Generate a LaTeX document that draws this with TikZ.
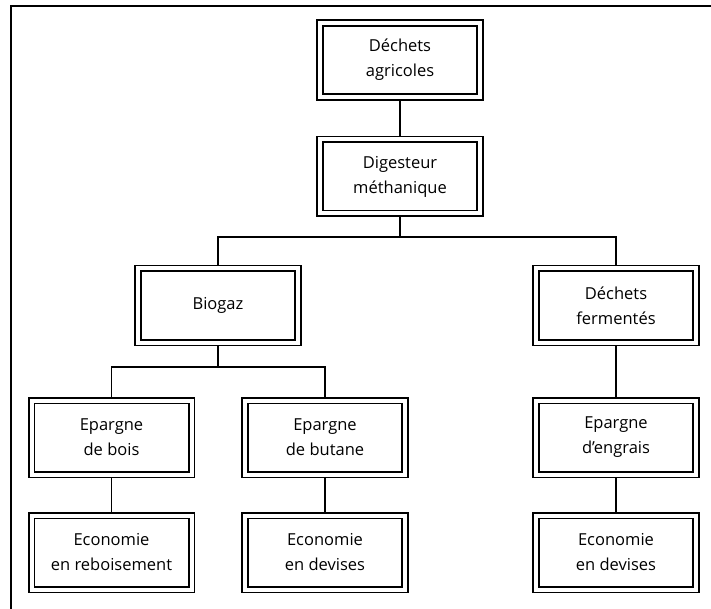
\documentclass[tikz,border=0pt]{standalone}
\usepackage{fontspec}
\setmainfont{Open Sans}
\usepackage{tikz}
\usetikzlibrary{calc}

\begin{document}
\begin{tikzpicture}[x=1pt,y=-1pt,
  bloc/.style={draw=black,line width=1.6pt,double=white,double distance=4pt,
    minimum width=160pt,minimum height=74pt,outer sep=3.6pt,inner sep=2pt,
    align=center,font=\fontsize{16.5}{25}\selectfont},
  lien/.style={line width=1.2pt,black}]
\useasboundingbox (0,0) rectangle (711,609);
\draw[line width=2pt] (11,609) -- (11,6) -- (711,6);
\node[bloc] (agri) at (400,60) {Déchets\\agricoles};
\node[bloc] (dig) at (400,176.5) {Digesteur\\méthanique};
\node[bloc] (bio) at (218,305.5) {Biogaz};
\node[bloc] (fer) at (616,305.5) {Déchets\\fermentés};
\node[bloc] (bois) at (111.5,437.5) {Epargne\\de bois};
\node[bloc] (but) at (325,437.5) {Epargne\\de butane};
\node[bloc] (eng) at (616,437.5) {Epargne\\d'engrais};
\node[bloc] (reb) at (111.5,552.5) {Economie\\en reboisement};
\node[bloc] (dev1) at (325,552.5) {Economie\\en devises};
\node[bloc] (dev2) at (616,552.5) {Economie\\en devises};
\coordinate (j1) at (400,237);
\coordinate (j2) at (218,367);
\draw[lien] (agri) -- (dig);
\draw[lien] (dig) -- (j1);
\draw[lien] (bio.north) |- (j1) -| (fer.north);
\draw[lien] (bio) -- (j2);
\draw[lien] (bois.north) |- (j2) -| (but.north);
\draw[lien] (fer) -- (eng);
\draw[lien] (bois) -- (reb);
\draw[lien] (but) -- (dev1);
\draw[lien] (eng) -- (dev2);
\end{tikzpicture}
\end{document}
